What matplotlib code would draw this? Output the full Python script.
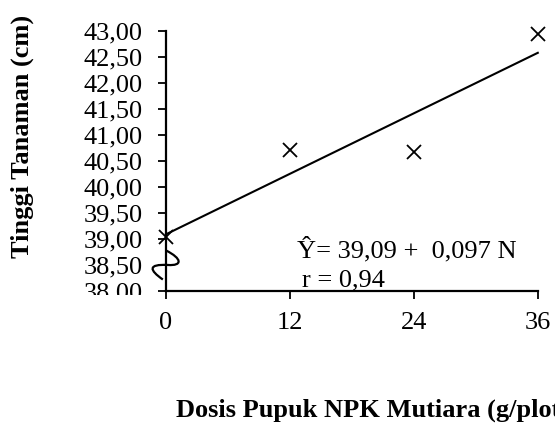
import matplotlib
matplotlib.use("Agg")
import matplotlib.pyplot as plt
from matplotlib.path import Path
from matplotlib.patches import PathPatch
from matplotlib.transforms import Bbox, TransformedBbox
import numpy as np

# data
dosis = [0, 12, 24, 36]
tinggi = [39.03, 40.72, 40.67, 42.95]
a, b = 39.09, 0.097
x_ticks = [0, 12, 24, 36]
y_ticks = [38.0, 38.5, 39.0, 39.5, 40.0, 40.5, 41.0, 41.5, 42.0, 42.5, 43.0]

plt.rcParams['font.family'] = ['Liberation Serif', 'DejaVu Serif']

fig = plt.figure(figsize=(5.55, 4.26), dpi=100)
ax = fig.add_axes([0.299, 0.317, 0.670, 0.610])

ax.plot(dosis, tinggi, 'x', color='black', markersize=10, markeredgewidth=1.3, clip_on=False)
xl = np.array([0, 36])
ax.plot(xl, a + b * xl, color='black', lw=1.5, clip_on=False)

ax.set_xlim(0, 36)
ax.set_ylim(38, 43)
ax.set_xticks(x_ticks)
ax.set_yticks(y_ticks)
ax.set_yticklabels([f"{v:.2f}".replace('.', ',') for v in y_ticks])
ax.tick_params(axis='both', direction='out', length=6, width=1.3, labelsize=19)
ax.tick_params(axis='y', pad=11)
ax.tick_params(axis='x', pad=9)
for s in ['top', 'right']:
    ax.spines[s].set_visible(False)
for s in ['left', 'bottom']:
    ax.spines[s].set_linewidth(1.6)

# bottom label is partly hidden in the original
lab0 = ax.get_yticklabels()[0]
lab0.set_clip_on(True)
lab0.set_clip_box(TransformedBbox(Bbox([[0, 0.308], [1, 1]]), fig.transFigure))

# axis break squiggle
verts = [(0.0, 38.78), (1.6, 38.62), (1.6, 38.48), (0.2, 38.50),
         (-1.8, 38.52), (-1.6, 38.40), (-0.3, 38.22)]
codes = [Path.MOVETO, Path.CURVE4, Path.CURVE4, Path.CURVE4,
         Path.CURVE4, Path.CURVE4, Path.CURVE4]
ax.add_patch(PathPatch(Path(verts, codes), fill=False, lw=1.6, color='black', clip_on=False))

ax.text(12.7, 38.65, "Ŷ= 39,09 +  0,097 N", fontsize=19, va='baseline')
ax.text(13.2, 38.08, "r = 0,94", fontsize=19, va='baseline')

fig.text(0.04, 0.68, "Tinggi Tanaman (cm)", rotation=90, fontsize=19,
         fontweight='bold', ha='center', va='center')
fig.text(0.318, 0.038, "Dosis Pupuk NPK Mutiara (g/plot)", fontsize=19,
         fontweight='bold', ha='left', va='center')

fig.savefig("out.png", dpi=100)
